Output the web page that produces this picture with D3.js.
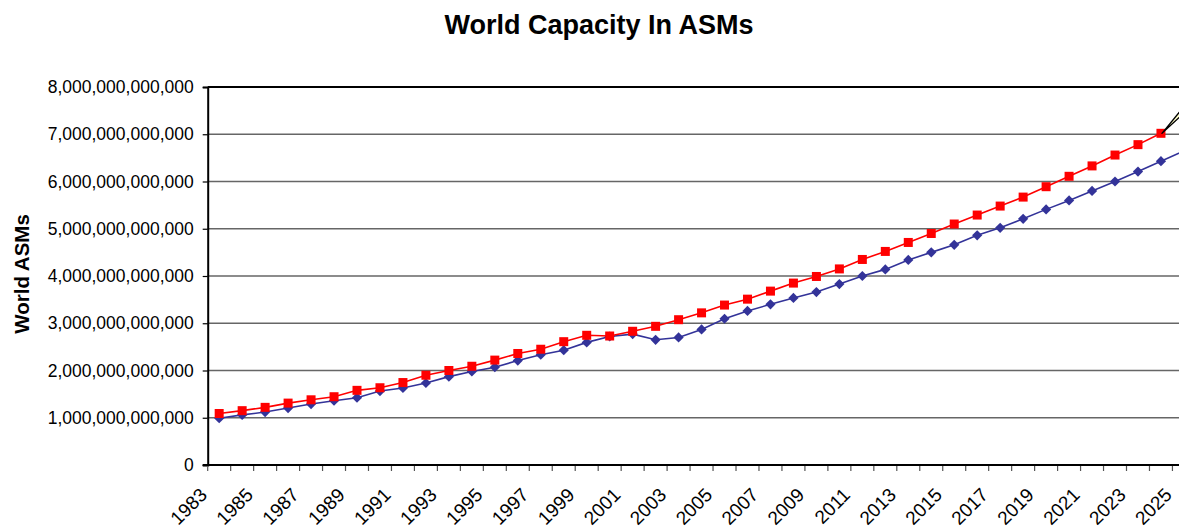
<!DOCTYPE html>
<html>
<head>
<meta charset="utf-8">
<script src="https://cdn.jsdelivr.net/npm/d3@7/dist/d3.min.js"></script>
<style>
  html, body { margin: 0; padding: 0; background: #fff; }
  svg { display: block; font-family: Arial, "Liberation Sans", sans-serif; }
</style>
</head>
<body>
<svg id="chart" width="1179" height="529"></svg>
<script>
// Years on the category axis
const years = d3.range(1983, 2026);

// Labelled years (every other category)
const yearLabels = d3.range(1983, 2026, 2);

// Upper series (red squares), world available seat miles
const seriesHigh = [
  1.09e12, 1.15e12, 1.22e12, 1.31e12, 1.38e12, 1.445e12, 1.58e12, 1.635e12, 1.745e12, 1.90e12,
  2.00e12, 2.09e12, 2.22e12, 2.36e12, 2.45e12, 2.61e12, 2.745e12, 2.73e12, 2.83e12, 2.935e12,
  3.075e12, 3.22e12, 3.385e12, 3.51e12, 3.68e12, 3.85e12, 3.99e12, 4.15e12, 4.35e12, 4.52e12,
  4.71e12, 4.90e12, 5.10e12, 5.29e12, 5.48e12, 5.67e12, 5.89e12, 6.11e12, 6.33e12, 6.56e12,
  6.78e12, 7.02e12, null
];

// Lower series (blue diamonds), with the 2001-2003 dip
const seriesLow = [
  0.99e12, 1.06e12, 1.12e12, 1.205e12, 1.29e12, 1.36e12, 1.425e12, 1.565e12, 1.63e12, 1.735e12,
  1.87e12, 1.98e12, 2.07e12, 2.21e12, 2.335e12, 2.43e12, 2.595e12, 2.72e12, 2.77e12, 2.65e12,
  2.70e12, 2.87e12, 3.095e12, 3.26e12, 3.40e12, 3.535e12, 3.66e12, 3.83e12, 4.00e12, 4.14e12,
  4.34e12, 4.50e12, 4.66e12, 4.86e12, 5.02e12, 5.21e12, 5.41e12, 5.60e12, 5.80e12, 6.00e12,
  6.21e12, 6.43e12, 6.65e12
];

// Value axis ticks
const yTicks = d3.range(0, 8e12 + 1, 1e12);

const svg = d3.select("#chart");
const plot = { left: 207.7, top: 87, bottom: 465, band: 22.97 };

const x = d3.scaleBand()
  .domain(years)
  .range([plot.left, plot.left + plot.band * years.length])
  .padding(0);

const y = d3.scaleLinear()
  .domain([0, 8e12])
  .range([plot.bottom, plot.top]);

const cx = yr => x(yr) + x.bandwidth() / 2;

// Title
svg.append("text")
  .attr("x", 599)
  .attr("y", 34)
  .attr("text-anchor", "middle")
  .attr("font-size", 27)
  .attr("font-weight", "bold")
  .text("World Capacity In ASMs");

// Value axis title
svg.append("text")
  .attr("transform", "translate(29,274) rotate(-90)")
  .attr("text-anchor", "middle")
  .attr("font-size", 20.5)
  .attr("font-weight", "bold")
  .text("World ASMs");

// Horizontal gridlines
const xRight = plot.left + plot.band * years.length;
svg.append("g")
  .selectAll("line")
  .data(yTicks.filter(d => d > 0 && d < 8e12))
  .join("line")
  .attr("x1", plot.left).attr("x2", xRight)
  .attr("y1", d => y(d)).attr("y2", d => y(d))
  .attr("stroke", "#666")
  .attr("stroke-width", 1.7);

// Top border of the plot area
svg.append("line")
  .attr("x1", plot.left).attr("x2", xRight)
  .attr("y1", y(8e12)).attr("y2", y(8e12))
  .attr("stroke", "#000").attr("stroke-width", 2);

// Value axis
const yAxis = d3.axisLeft(y)
  .tickValues(yTicks)
  .tickFormat(d3.format(",.0f"))
  .tickSize(5)
  .tickPadding(9);
const gy = svg.append("g")
  .attr("transform", `translate(${plot.left},0)`)
  .call(yAxis);
gy.select(".domain").attr("stroke", "#000").attr("stroke-width", 2);
gy.selectAll(".tick line").attr("stroke", "#000").attr("stroke-width", 1.2);
gy.selectAll(".tick text")
  .attr("font-size", 17.5)
  .attr("font-family", "Arial, 'Liberation Sans', sans-serif")
  .attr("fill", "#000");

// Category axis: tick marks sit between categories
const gx = svg.append("g");
gx.selectAll("line.tk")
  .data(years.concat([null]))
  .join("line")
  .attr("class", "tk")
  .attr("x1", (d, i) => plot.left + i * x.bandwidth())
  .attr("x2", (d, i) => plot.left + i * x.bandwidth())
  .attr("y1", plot.bottom)
  .attr("y2", plot.bottom + 6)
  .attr("stroke", "#555")
  .attr("stroke-width", 1.2);
gx.append("line")
  .attr("x1", plot.left - 5).attr("x2", xRight)
  .attr("y1", plot.bottom).attr("y2", plot.bottom)
  .attr("stroke", "#000").attr("stroke-width", 2);
gx.selectAll("text")
  .data(yearLabels)
  .join("text")
  .attr("transform", d => `translate(${cx(d) - 11},${plot.bottom + 31}) rotate(-45)`)
  .attr("text-anchor", "end")
  .attr("font-size", 19)
  .text(d => d);

// Series lines
const line = d3.line()
  .defined(d => d.v != null)
  .x(d => cx(d.year))
  .y(d => y(d.v));

const highData = years.map((yr, i) => ({ year: yr, v: seriesHigh[i] }));
const lowData = years.map((yr, i) => ({ year: yr, v: seriesLow[i] }));

svg.append("path")
  .datum(lowData)
  .attr("d", line)
  .attr("fill", "none")
  .attr("stroke", "#333399")
  .attr("stroke-width", 1.6);

svg.append("path")
  .datum(highData)
  .attr("d", line)
  .attr("fill", "none")
  .attr("stroke", "#FF0000")
  .attr("stroke-width", 1.6);

// Diamond markers
const diamond = d3.symbol().type(d3.symbolSquare).size(52);
svg.append("g")
  .selectAll("path")
  .data(lowData.filter(d => d.v != null))
  .join("path")
  .attr("d", diamond)
  .attr("transform", d => `translate(${cx(d.year)},${y(d.v)}) rotate(45)`)
  .attr("fill", "#333399");

// Square markers
svg.append("g")
  .selectAll("rect")
  .data(highData.filter(d => d.v != null))
  .join("rect")
  .attr("x", d => cx(d.year) - 4.5)
  .attr("y", d => y(d.v) - 4.5)
  .attr("width", 9)
  .attr("height", 9)
  .attr("fill", "#FF0000");

// Callout pointer leaving the last red point
const last = highData.filter(d => d.v != null).pop();
const px = cx(last.year), py = y(last.v);
svg.append("path")
  .attr("d", `M${px + 1},${py} L${px + 34},${py - 40} L${px + 38},${py - 34} Z`)
  .attr("fill", "#FFFFCC")
  .attr("stroke", "#000")
  .attr("stroke-width", 1.3)
  .attr("stroke-linejoin", "round");
</script>
</body>
</html>
